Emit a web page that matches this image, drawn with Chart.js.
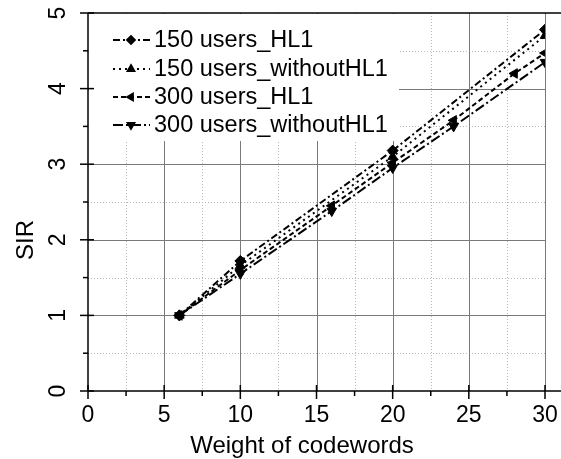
<!DOCTYPE html>
<html><head><meta charset="utf-8">
<script src="https://cdn.jsdelivr.net/npm/chart.js@4"></script>
<style>html,body{margin:0;padding:0;background:#fff}#wrap{width:561px;height:459px;position:relative}</style>
</head><body><div id="wrap"><canvas id="c"></canvas></div>
<script>
const seriesNames = ['150 users_HL1', '150 users_withoutHL1', '300 users_HL1', '300 users_withoutHL1'];
const s150HL1X = [6, 10, 20, 30];
const s150HL1Y = [1.0, 1.72, 3.18, 4.78];
const s150NoX = [6, 10, 20, 30];
const s150NoY = [1.0, 1.66, 3.1, 4.7];
const s300HL1X = [6, 10, 16, 20, 24, 28, 30];
const s300HL1Y = [1.0, 1.6, 2.45, 3.02, 3.58, 4.2, 4.47];
const s300NoX = [6, 10, 16, 20, 24, 30];
const s300NoY = [1.0, 1.55, 2.38, 2.95, 3.5, 4.35];
const xTicks = [0, 5, 10, 15, 20, 25, 30];
const xMinorTicks = [2.5, 7.5, 12.5, 17.5, 22.5, 27.5];
const yTicks = [0, 1, 2, 3, 4, 5];
const yMinorTicks = [0.5, 1.5, 2.5, 3.5, 4.5];
const xTitle = 'Weight of codewords';
const yTitle = 'SIR';

const FONT = '"Liberation Sans", Arial, Helvetica, sans-serif';
const styles = [
  {dash: [7, 3, 2, 3], pointStyle: 'rectRot', rotation: 0, radius: 5.5},
  {dash: [2, 4], pointStyle: 'triangle', rotation: 0, radius: 5.5},
  {dash: [5, 3], pointStyle: 'triangle', rotation: 270, radius: 5.5},
  {dash: [10, 3, 2, 3], pointStyle: 'triangle', rotation: 180, radius: 5.5}
];
const pts = (xs, ys) => xs.map((v, i) => ({x: v, y: ys[i]}));
const seriesData = [pts(s150HL1X, s150HL1Y), pts(s150NoX, s150NoY), pts(s300HL1X, s300HL1Y), pts(s300NoX, s300NoY)];

const datasets = seriesData.map((d, i) => ({
  label: seriesNames[i],
  data: d,
  borderColor: '#000',
  backgroundColor: '#000',
  borderWidth: 2,
  borderDash: styles[i].dash,
  pointStyle: styles[i].pointStyle,
  pointRotation: styles[i].rotation,
  pointRadius: styles[i].radius,
  pointBorderWidth: 1,
  pointBorderColor: '#000',
  pointBackgroundColor: '#000',
  fill: false,
  tension: 0
}));

function seg(ctx, x1, y1, x2, y2) { ctx.beginPath(); ctx.moveTo(x1, y1); ctx.lineTo(x2, y2); ctx.stroke(); }

const decor = {
  id: 'decor',
  beforeDatasetsDraw(chart) {
    const {ctx, chartArea: a, scales: {x, y}} = chart;
    const W = chart.width;
    ctx.save();
    ctx.lineWidth = 1;
    ctx.strokeStyle = '#b8b8b8';
    ctx.setLineDash([1, 2]);
    xMinorTicks.forEach(v => { const p = Math.round(x.getPixelForValue(v)) + 0.5; seg(ctx, p, a.top, p, a.bottom); });
    yMinorTicks.forEach(v => { const p = Math.round(y.getPixelForValue(v)) + 0.5; seg(ctx, a.left, p, a.right, p); });
    ctx.setLineDash([]);
    ctx.strokeStyle = '#7a7a7a';
    xTicks.forEach(v => { if (v === 0) return; const p = Math.round(x.getPixelForValue(v)) + 0.5; seg(ctx, p, a.top, p, a.bottom); });
    yTicks.forEach(v => { if (v === 0 || v === 5) return; const p = Math.round(y.getPixelForValue(v)) + 0.5; seg(ctx, a.left, p, a.right, p); });
    ctx.fillStyle = '#fff';
    ctx.fillRect(a.left + 1, a.top + 1, 310, 127);
    ctx.strokeStyle = '#000';
    ctx.lineWidth = 1.5;
    seg(ctx, a.left, a.top, W, a.top);
    seg(ctx, a.left, a.top, a.left, a.bottom);
    seg(ctx, a.left, a.bottom, W, a.bottom);
    xTicks.forEach(v => { const p = x.getPixelForValue(v); seg(ctx, p, a.bottom - 6, p, a.bottom + 8); });
    xMinorTicks.forEach(v => { const p = x.getPixelForValue(v); seg(ctx, p, a.bottom, p, a.bottom + 5); });
    yTicks.forEach(v => { const p = y.getPixelForValue(v); seg(ctx, a.left - 8, p, a.left + 6, p); });
    yMinorTicks.forEach(v => { const p = y.getPixelForValue(v); seg(ctx, a.left - 5, p, a.left, p); });
    ctx.fillStyle = '#000';
    ctx.font = '23px ' + FONT;
    ctx.textAlign = 'center';
    ctx.textBaseline = 'middle';
    xTicks.forEach(v => { ctx.fillText(String(v), x.getPixelForValue(v), a.bottom + 25); });
    yTicks.forEach(v => {
      ctx.save();
      ctx.translate(a.left - 29, y.getPixelForValue(v));
      ctx.rotate(-Math.PI / 2);
      ctx.fillText(String(v), 0, 0);
      ctx.restore();
    });
    ctx.font = '24px ' + FONT;
    ctx.fillText(xTitle, 302, 446);
    ctx.save();
    ctx.translate(26, 240);
    ctx.rotate(-Math.PI / 2);
    ctx.fillText(yTitle, 0, 0);
    ctx.restore();
    ctx.restore();
  },
  afterDatasetsDraw(chart) {
    const {ctx, chartArea: a} = chart;
    ctx.save();
    const rows = [40, 69, 97, 125];
    rows.forEach((ry, i) => {
      const st = styles[i];
      ctx.strokeStyle = '#000';
      ctx.lineWidth = 1.8;
      ctx.setLineDash(st.dash);
      seg(ctx, a.left + 25, ry, a.left + 62, ry);
      ctx.setLineDash([]);
      ctx.fillStyle = '#000';
      Chart.helpers.drawPoint(ctx, {pointStyle: st.pointStyle, rotation: st.rotation, radius: 4, borderWidth: 1}, a.left + 43, ry);
      ctx.font = '23.5px ' + FONT;
      ctx.textAlign = 'left';
      ctx.textBaseline = 'middle';
      ctx.fillText(seriesNames[i], a.left + 66, ry + 1);
    });
    ctx.restore();
  }
};

new Chart(document.getElementById('c'), {
  type: 'line',
  data: {datasets},
  options: {
    responsive: true,
    maintainAspectRatio: false,
    animation: false,
    layout: {padding: {left: 88, top: 13, right: 16, bottom: 68}},
    plugins: {legend: {display: false}, tooltip: {enabled: false}},
    scales: {
      x: {type: 'linear', min: 0, max: 30, display: false},
      y: {type: 'linear', min: 0, max: 5, display: false}
    }
  },
  plugins: [decor]
});
</script>
</body></html>
